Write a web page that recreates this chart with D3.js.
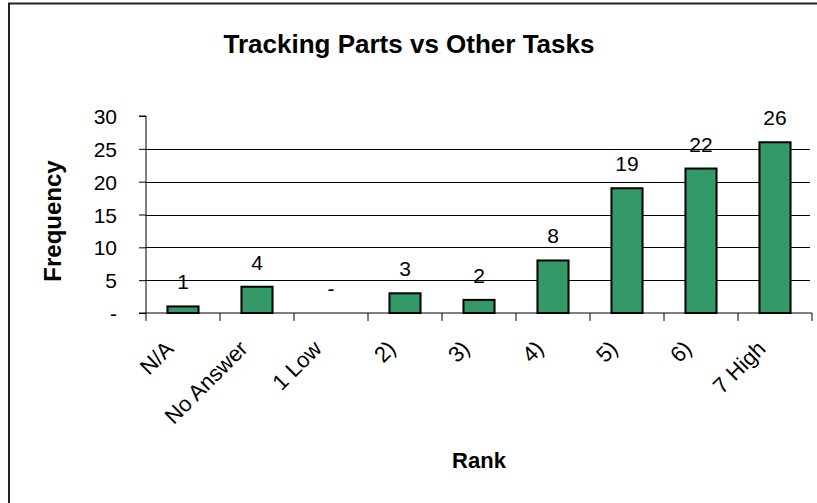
<!DOCTYPE html>
<html>
<head>
<meta charset="utf-8">
<script src="https://cdn.jsdelivr.net/npm/d3@7"></script>
<style>
  body { margin: 0; background: #fff; }
  text { font-family: "Liberation Sans", Arial, sans-serif; fill: #000; }
</style>
</head>
<body>
<div id="chart"></div>
<script>
var categories = ["N/A", "No Answer", "1 Low", "2)", "3)", "4)", "5)", "6)", "7 High"];
var values = [1, 4, 0, 3, 2, 8, 19, 22, 26];
var yTicks = [0, 5, 10, 15, 20, 25, 30];

var w = 817,
    h = 503,
    m = [116, 5, 190, 146]; // top right bottom left

var svg = d3.select("#chart").append("svg")
    .attr("width", w)
    .attr("height", h);

// frame (left and top edges show)
svg.append("path")
    .attr("d", "M9," + h + "V3.5H" + w)
    .attr("fill", "none")
    .attr("stroke", "#222")
    .attr("stroke-width", 2);

var x = d3.scaleBand()
    .domain(categories)
    .range([m[3], w - m[1]])
    .paddingInner(0.58)
    .paddingOuter(0.29);

var y = d3.scaleLinear()
    .domain([0, 30])
    .range([h - m[2], m[0]]);

var fmt = function(d) { return d === 0 ? "-" : d; };

// gridlines
svg.append("g").selectAll("line")
    .data(yTicks.filter(function(d) { return d > 0 && d < 30; }))
  .enter().append("line")
    .attr("x1", m[3])
    .attr("x2", w - m[1] - 2)
    .attr("y1", function(d) { return Math.round(y(d)) + 0.5; })
    .attr("y2", function(d) { return Math.round(y(d)) + 0.5; })
    .attr("stroke", "#000")
    .attr("stroke-width", 1);

// bars
svg.append("g").selectAll("rect")
    .data(values)
  .enter().append("rect")
    .attr("x", function(d, i) { return x(categories[i]); })
    .attr("y", function(d) { return y(d); })
    .attr("width", x.bandwidth())
    .attr("height", function(d) { return y(0) - y(d); })
    .attr("fill", "#339966")
    .attr("stroke", "#000")
    .attr("stroke-width", 2)
    .style("display", function(d) { return d === 0 ? "none" : null; });

// value labels
svg.append("g").selectAll("text")
    .data(values)
  .enter().append("text")
    .attr("x", function(d, i) { return x(categories[i]) + x.bandwidth() / 2; })
    .attr("y", function(d) { return y(d) - 17; })
    .attr("text-anchor", "middle")
    .style("font-size", "21px")
    .text(fmt);

// y axis
var yAxis = svg.append("g")
    .attr("transform", "translate(" + m[3] + ",0)")
    .call(d3.axisLeft(y).tickValues(yTicks).tickSize(7).tickPadding(22).tickFormat(fmt));
yAxis.selectAll("text").style("font-size", "21px").attr("dy", "0.36em");
yAxis.selectAll("path, line").attr("stroke", "#000");
yAxis.select(".domain").attr("d", "M-7," + y(30) + "H0V" + y(0));

// x axis: ticks on category boundaries
var bounds = d3.range(categories.length + 1).map(function(i) {
  return m[3] + i * x.step();
});
var xg = svg.append("g")
    .attr("transform", "translate(0," + y(0) + ")");
xg.append("line")
    .attr("x1", m[3] - 7)
    .attr("x2", w - m[1])
    .attr("stroke", "#000");
xg.selectAll(".tick")
    .data(bounds)
  .enter().append("line")
    .attr("class", "tick")
    .attr("x1", function(d) { return d; })
    .attr("x2", function(d) { return d; })
    .attr("y2", 8)
    .attr("stroke", "#000");

xg.selectAll(".lab")
    .data(categories)
  .enter().append("text")
    .attr("class", "lab")
    .attr("text-anchor", "end")
    .attr("transform", function(d) {
      return "translate(" + (x(d) + x.bandwidth() / 2 - 8) + ",37) rotate(-45)";
    })
    .style("font-size", "22px")
    .text(function(d) { return d; });

// titles
svg.append("text")
    .attr("x", 409)
    .attr("y", 53)
    .attr("text-anchor", "middle")
    .style("font-size", "26px")
    .style("font-weight", "bold")
    .text("Tracking Parts vs Other Tasks");

svg.append("text")
    .attr("x", 479)
    .attr("y", 468)
    .attr("text-anchor", "middle")
    .style("font-size", "22px")
    .style("font-weight", "bold")
    .text("Rank");

svg.append("text")
    .attr("transform", "translate(61,221) rotate(-90)")
    .attr("text-anchor", "middle")
    .style("font-size", "24px")
    .style("font-weight", "bold")
    .text("Frequency");
</script>
</body>
</html>
